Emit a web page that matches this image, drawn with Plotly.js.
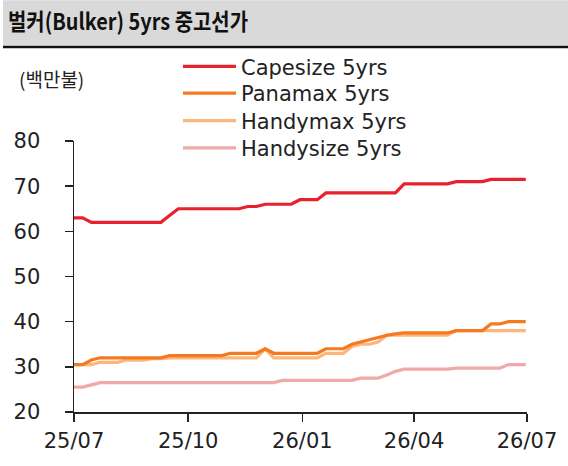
<!DOCTYPE html>
<html>
<head>
<meta charset="utf-8">
<script src="https://cdn.plot.ly/plotly-3.0.1.min.js"></script>
<style>html,body{margin:0;padding:0;background:#fff;}#chart{width:568px;height:466px;}</style>
</head>
<body>
<div id="chart"></div>
<script>
const dates = [
  "2025-07-01","2025-07-08","2025-07-15","2025-07-22","2025-07-29",
  "2025-08-05","2025-08-12","2025-08-19","2025-08-26",
  "2025-09-02","2025-09-09","2025-09-16","2025-09-23","2025-09-30",
  "2025-10-07","2025-10-14","2025-10-21","2025-10-28",
  "2025-11-04","2025-11-11","2025-11-18","2025-11-25",
  "2025-12-02","2025-12-09","2025-12-16","2025-12-23","2025-12-30",
  "2026-01-06","2026-01-13","2026-01-20","2026-01-27",
  "2026-02-03","2026-02-10","2026-02-17","2026-02-24",
  "2026-03-03","2026-03-10","2026-03-17","2026-03-24","2026-03-31",
  "2026-04-07","2026-04-14","2026-04-21","2026-04-28",
  "2026-05-05","2026-05-12","2026-05-19","2026-05-26",
  "2026-06-02","2026-06-09","2026-06-16","2026-06-23","2026-06-30"
];
const capesize = [63,63,62,62,62,62,62,62,62,62,62,63.5,65,65,65,65,65,65,65,65,65.5,65.5,66,66,66,66,67,67,67,68.5,68.5,68.5,68.5,68.5,68.5,68.5,68.5,68.5,70.5,70.5,70.5,70.5,70.5,70.5,71,71,71,71,71.5,71.5,71.5,71.5,71.5];
const panamax = [30.5,30.5,31.5,32,32,32,32,32,32,32,32,32.5,32.5,32.5,32.5,32.5,32.5,32.5,33,33,33,33,34,33,33,33,33,33,33,34,34,34,35,35.5,36,36.5,37,37.3,37.5,37.5,37.5,37.5,37.5,37.5,38,38,38,38,39.5,39.5,40,40,40];
const handymax = [30.5,30.5,30.5,31,31,31,31.5,31.5,31.5,31.8,31.8,32,32,32,32,32,32,32,32,32,32,32,34,32,32,32,32,32,32,33,33,33,34.5,35,35,35.5,37,37,37,37,37,37,37,37,38,38,38,38,38,38,38,38,38];
const handysize = [25.5,25.5,26,26.5,26.5,26.5,26.5,26.5,26.5,26.5,26.5,26.5,26.5,26.5,26.5,26.5,26.5,26.5,26.5,26.5,26.5,26.5,26.5,26.5,27,27,27,27,27,27,27,27,27,27.5,27.5,27.5,28.2,29,29.5,29.5,29.5,29.5,29.5,29.5,29.7,29.7,29.7,29.7,29.7,29.7,30.5,30.5,30.5];
const seriesNames = ["Capesize 5yrs","Panamax 5yrs","Handymax 5yrs","Handysize 5yrs"];
const tickVals = ["2025-07-01","2025-10-01","2026-01-01","2026-04-01","2026-07-01"];
const tickText = ["25/07","25/10","26/01","26/04","26/07"];
const yTicks = [20,30,40,50,60,70,80];
const titleText = "벌커(Bulker) 5yrs 중고선가";
const unitText = "(백만불)";

const W=568,H=466,L=74,R=527,T=141,B=412.3;
const px = X => (X-L)/(R-L);
const py = Y => (B-Y)/(B-T);

const colors = ["#e8212f","#f47920","#fdb57a","#f0a9a9"];
const values = [capesize, panamax, handymax, handysize];
const legendIds = ["legend","legend2","legend3","legend4"];
const rowY = [66.7, 93.5, 121, 148.3];

const traces = values.map((v,i)=>({
  x: dates, y: v, type: "scatter", mode: "lines", name: seriesNames[i],
  legend: legendIds[i],
  line: {color: colors[i], width: 3.2}
}));
// lighter lines drawn first, darker on top
const data = [3,2,1,0].map(i=>traces[i]);

const layout = {
  width: W, height: H,
  margin: {l: L, r: W-R, t: T, b: H-B, pad: 0},
  paper_bgcolor: "#ffffff", plot_bgcolor: "#ffffff",
  showlegend: true,
  title: {text: titleText, x: 8/W, xanchor: "left", xref: "container",
          y: 1-22/H, yanchor: "middle", yref: "container",
          font: {family: "Noto Sans CJK KR", size: 23, color: "#111", weight: 700}},
  xaxis: {
    type: "date", range: ["2025-07-01","2026-07-01"],
    tickvals: tickVals, ticktext: tickText,
    showgrid: false, zeroline: false,
    showline: true, linecolor: "#222", linewidth: 1.5,
    ticks: "outside", ticklen: 8, tickwidth: 1.5, tickcolor: "#222",
    tickfont: {family: "DejaVu Sans", size: 21, color: "#222"},
    ticklabelstandoff: 1, fixedrange: true
  },
  yaxis: {
    range: [20,80], tickvals: yTicks,
    showgrid: false, zeroline: false,
    showline: true, linecolor: "#222", linewidth: 1.5,
    ticks: "outside", ticklen: 8, tickwidth: 1.5, tickcolor: "#222",
    tickfont: {family: "DejaVu Sans", size: 21, color: "#222"},
    ticklabelstandoff: 20, fixedrange: true
  },
  shapes: [
    {type: "rect", xref: "paper", yref: "paper", x0: px(3), x1: px(568), y0: py(45.5), y1: py(0),
     fillcolor: "#d9d9d9", line: {width: 0}, layer: "below"},
    {type: "line", xref: "paper", yref: "paper", x0: px(3), x1: px(568), y0: py(47), y1: py(47),
     line: {color: "#111", width: 2.5}, layer: "below"}
  ],
  annotations: [
    {text: unitText, xref: "paper", yref: "paper", x: px(17), y: py(78), xanchor: "left", yanchor: "middle",
     showarrow: false, font: {family: "Noto Sans CJK KR", size: 19, color: "#222"}}
  ]
};
legendIds.forEach((id,i)=>{
  layout[id] = {
    x: px(178), xanchor: "left", y: py(rowY[i]), yanchor: "middle",
    bgcolor: "rgba(0,0,0,0)", borderwidth: 0,
    font: {family: "DejaVu Sans", size: 21, color: "#222"},
    itemwidth: 53
  };
});

Plotly.newPlot("chart", data, layout, {displayModeBar: false, staticPlot: true}).then(()=>{
  const t = document.querySelector(".gtitle");
  if (t) { t.setAttribute("textLength", "240"); t.setAttribute("lengthAdjust", "spacingAndGlyphs"); }
});
</script>
</body>
</html>
